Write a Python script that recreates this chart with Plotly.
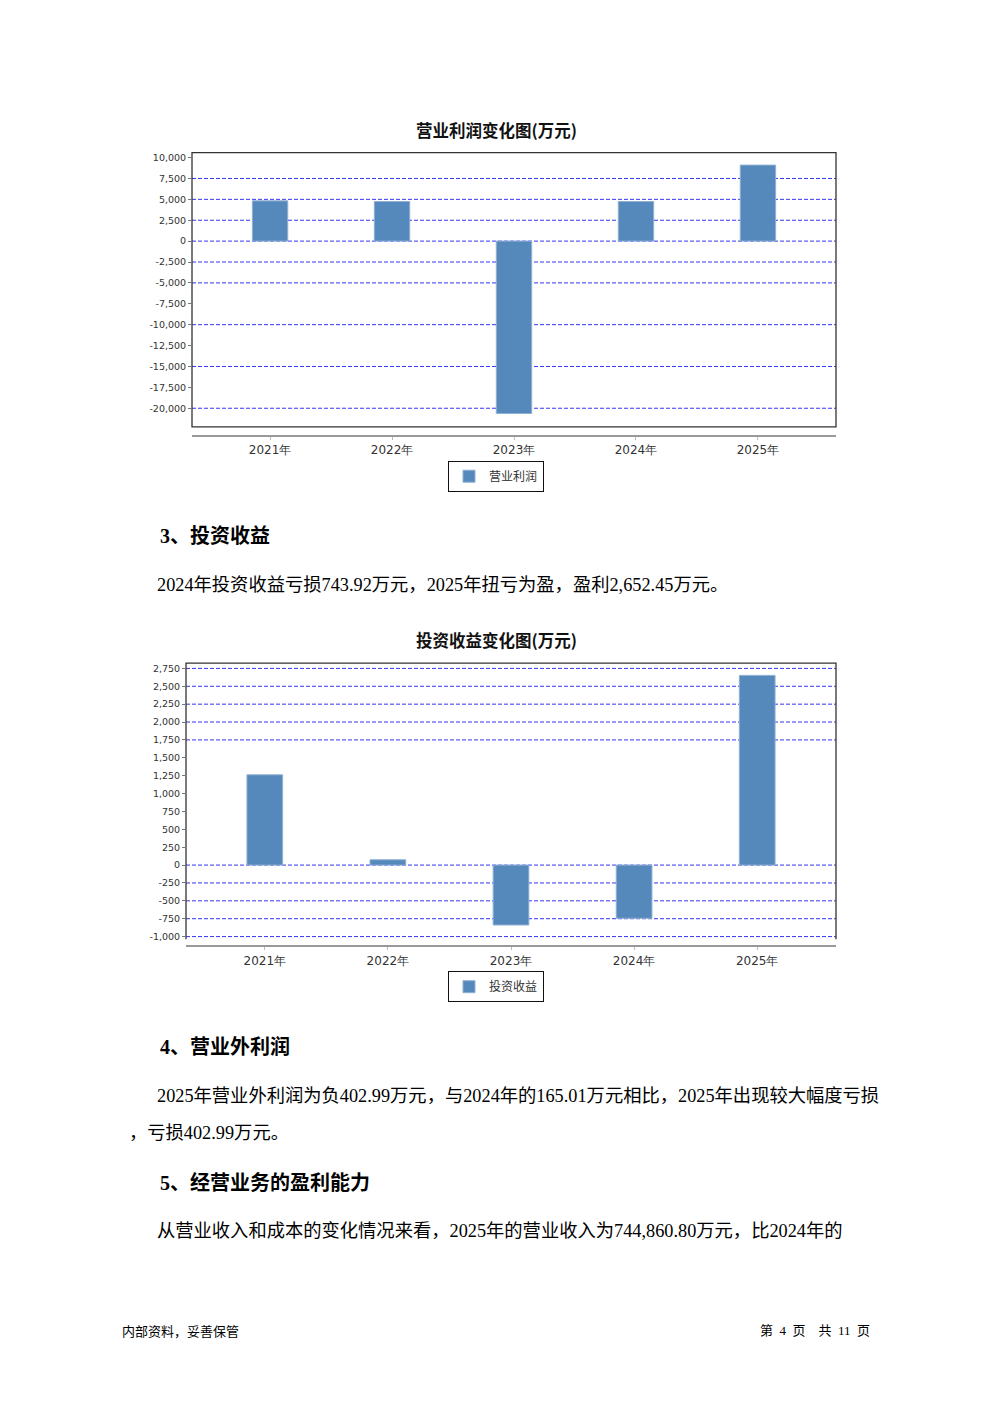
import plotly.graph_objects as go

PAGE_W, PAGE_H = 992, 1403
OFF = 8                      # default page body margin
W, H = PAGE_W - 2 * OFF, PAGE_H - 2 * OFF

# ---------------- data ----------------
years = ["2021年", "2022年", "2023年", "2024年", "2025年"]
op_profit = [4820, 4740, -20630, 4740, 9100]          # 营业利润 (万元)
inv_income = [1262, 74, -838, -743.92, 2652.45]       # 投资收益 (万元)

y1_ticks = [10000, 7500, 5000, 2500, 0, -2500, -5000, -7500, -10000,
            -12500, -15000, -17500, -20000]
y1_grid = [7500, 5000, 2500, 0, -2500, -5000, -10000, -15000, -20000]
y2_ticks = [2750, 2500, 2250, 2000, 1750, 1500, 1250, 1000, 750, 500,
            250, 0, -250, -500, -750, -1000]
y2_grid = [2750, 2500, 2250, 2000, 1750, 0, -250, -500, -750, -1000]

title1 = "营业利润变化图(万元)"
title2 = "投资收益变化图(万元)"
legend1 = "营业利润"
legend2 = "投资收益"

texts = [
    # (x px, y px, text, size, bold)
    (158, 537, "3、投资收益", 20, True),
    (155, 586, "2024年投资收益亏损743.92万元，2025年扭亏为盈，盈利2,652.45万元。", 18.3, False),
    (158, 1048, "4、营业外利润", 20, True),
    (155, 1098, "2025年营业外利润为负402.99万元，与2024年的165.01万元相比，2025年出现较大幅度亏损", 18.3, False),
    (127, 1135, "，亏损402.99万元。", 18.3, False),
    (158, 1185, "5、经营业务的盈利能力", 20, True),
    (155, 1234, "从营业收入和成本的变化情况来看，2025年的营业收入为744,860.80万元，比2024年的", 18.3, False),
]
footer_left = "内部资料，妥善保管"
footer_right = "第  4  页    共  11  页"

# ---------------- style ----------------
BAR = "#5689bb"
GRID = "#3434f0"
SERIF = "Liberation Serif, Noto Sans CJK SC"
CJK = "Noto Sans CJK SC"
TICKF = "DejaVu Sans"


def px_x(p):
    return (p - OFF) / W


def px_y(p):
    return 1 - (p - OFF) / H


fig = go.Figure()

fig.add_trace(go.Bar(x=years, y=op_profit, name=legend1, marker_color=BAR,
                     marker_line_color="#8fb0d4", marker_line_width=1,
                     width=0.29, xaxis="x", yaxis="y", legend="legend"))
fig.add_trace(go.Bar(x=years, y=inv_income, name=legend2, marker_color=BAR,
                     marker_line_color="#8fb0d4", marker_line_width=1,
                     width=0.29, xaxis="x2", yaxis="y2", legend="legend2"))


def fmt(v):
    return f"{v:,}"


common_y = dict(showgrid=False, zeroline=False, showline=False, ticks="outside",
                ticklen=3, tickcolor="#777",
                tickfont=dict(family=TICKF, size=9.5, color="#333"))
common_x = dict(showgrid=False, zeroline=False, showline=True, linecolor="#999",
                linewidth=2, ticks="outside", ticklen=3, tickcolor="#bbb",
                tickfont=dict(family=TICKF, size=12, color="#333"),
                range=[-0.64, 4.64], type="category")

leg_common = dict(x=0.5, xanchor="center", yanchor="top",
                  bordercolor="#111", borderwidth=1, itemwidth=30,
                  font=dict(family=CJK, size=12, color="#333"),
                  tracegroupgap=0, itemclick=False)

fig.update_layout(
    width=W, height=H, margin=dict(l=0, r=0, t=0, b=0),
    paper_bgcolor="white", plot_bgcolor="white", showlegend=True,
    xaxis=dict(domain=[px_x(192), px_x(836)], anchor="free", position=px_y(436), **common_x),
    yaxis=dict(domain=[px_y(427), px_y(152)], anchor="x", range=[-22220, 10597],
               tickvals=y1_ticks, ticktext=[fmt(v) for v in y1_ticks], **common_y),
    xaxis2=dict(domain=[px_x(186), px_x(836)], anchor="free", position=px_y(948), **common_x),
    yaxis2=dict(domain=[px_y(941), px_y(664)], anchor="x2", range=[-1038, 2824],
                tickvals=y2_ticks, ticktext=[fmt(v) for v in y2_ticks], **common_y),
    legend=dict(y=px_y(461), **leg_common),
    legend2=dict(y=px_y(973), **leg_common),
)

shapes = []
for g in y1_grid:
    shapes.append(dict(type="line", xref="x domain", yref="y", x0=0, x1=1, y0=g, y1=g,
                       line=dict(color=GRID, width=1, dash="4px,2px"), layer="below"))
for g in y2_grid:
    shapes.append(dict(type="line", xref="x2 domain", yref="y2", x0=0, x1=1, y0=g, y1=g,
                       line=dict(color=GRID, width=1, dash="4px,2px"), layer="below"))
# chart 1 frame
shapes.append(dict(type="rect", xref="x domain", yref="y domain", x0=0, x1=1, y0=0, y1=1,
                   line=dict(color="#333", width=1.3)))
# chart 2 frame (left, top, right)
shapes.append(dict(type="path", xref="x2 domain", yref="y2 domain",
                   path="M 0 0 L 0 1 L 1 1 L 1 0", line=dict(color="#333", width=1.3)))
fig.update_layout(shapes=shapes)

ann = []
for t, yy in ((title1, 129), (title2, 641)):
    ann.append(dict(x=px_x(496), y=px_y(yy), xref="paper", yref="paper", text=f"<b>{t}</b>",
                    showarrow=False, font=dict(family=CJK, size=16.5, color="#111"),
                    xanchor="center", yanchor="middle"))
for (x, y, t, s, b) in texts:
    ann.append(dict(x=px_x(x), y=px_y(y), xref="paper", yref="paper",
                    text=f"<b>{t}</b>" if b else t, showarrow=False,
                    font=dict(family=SERIF, size=s, color="#000"),
                    xanchor="left", yanchor="middle"))
ann.append(dict(x=px_x(120), y=px_y(1333), xref="paper", yref="paper", text=footer_left,
                showarrow=False, font=dict(family=CJK, size=13, color="#000"),
                xanchor="left", yanchor="middle"))
ann.append(dict(x=px_x(872), y=px_y(1333), xref="paper", yref="paper", text=footer_right,
                showarrow=False, font=dict(family=SERIF, size=13, color="#000"),
                xanchor="right", yanchor="middle"))
fig.update_layout(annotations=ann)

fig.write_html("out.html")
